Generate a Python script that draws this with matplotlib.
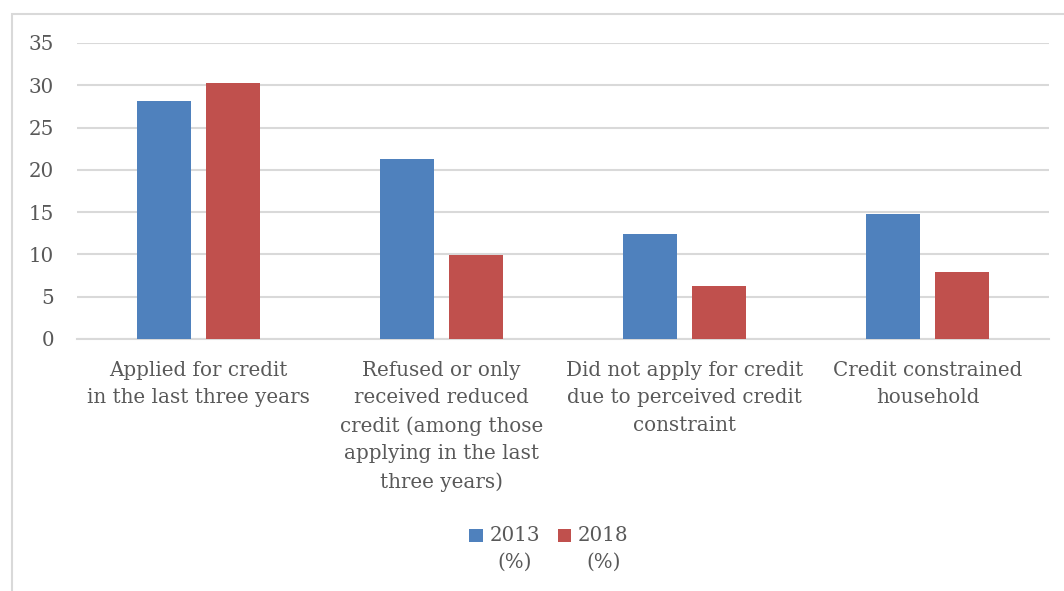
import matplotlib
matplotlib.use("Agg")
import matplotlib.pyplot as plt
import numpy as np
from matplotlib.patches import Rectangle
from matplotlib.legend_handler import HandlerPatch

categories = [
    "Applied for credit\nin the last three years",
    "Refused or only\nreceived reduced\ncredit (among those\napplying in the last\nthree years)",
    "Did not apply for credit\ndue to perceived credit\nconstraint",
    "Credit constrained\nhousehold",
]
series_names = ["2013\n(%)", "2018\n(%)"]
values_2013 = [28.1, 21.3, 12.4, 14.8]
values_2018 = [30.3, 9.9, 6.3, 7.9]
yticks = [0, 5, 10, 15, 20, 25, 30, 35]

W, H = 1064, 591
fig = plt.figure(figsize=(W / 100, H / 100), dpi=100)
plt.rcParams['font.family'] = ['DejaVu Serif']
textcol = "#595959"
gridcol = "#D9D9D9"
FS = 14.3
LS = 1.57

ax = fig.add_axes([77 / W, 1 - 339 / H, (1049 - 77) / W, (339 - 43) / H])
x = np.arange(len(categories))
bw = 0.222
off = 0.142
b1 = ax.bar(x - off, values_2013, bw, color="#4F81BD", label=series_names[0], zorder=3)
b2 = ax.bar(x + off, values_2018, bw, color="#C0504D", label=series_names[1], zorder=3)

ax.set_xlim(-0.5, len(categories) - 0.5)
ax.set_ylim(0, 35)
ax.set_yticks(yticks)
ax.set_yticklabels([str(t) for t in yticks], fontsize=FS, color=textcol)
ax.set_xticks(x)
ax.set_xticklabels(categories, fontsize=FS, color=textcol, linespacing=LS, va="top")
ax.tick_params(axis="both", length=0)
ax.tick_params(axis="x", pad=15.5)
ax.tick_params(axis="y", pad=16.5)
ax.grid(axis="y", color=gridcol, linewidth=1.5, zorder=0)
for s in ["top", "right", "left"]:
    ax.spines[s].set_visible(False)
ax.spines["bottom"].set_color(gridcol)
ax.spines["bottom"].set_linewidth(1.5)


def top_square(legend, orig_handle, xdescent, ydescent, width, height, fontsize):
    sq = width
    return Rectangle((-xdescent, -ydescent + height - sq + 0.1 * fontsize), sq, sq)


h1, h2 = b1.patches[0], b2.patches[0]
leg = fig.legend(handles=[h1, h2], labels=series_names, loc="center",
                 bbox_to_anchor=(549 / W, 1 - 549 / H), ncol=2, frameon=False,
                 fontsize=FS, handlelength=0.66, handleheight=2.6,
                 handletextpad=0.35, columnspacing=0.9, labelcolor=textcol,
                 handler_map={h1: HandlerPatch(patch_func=top_square),
                              h2: HandlerPatch(patch_func=top_square)})
for t in leg.get_texts():
    t.set_multialignment("center")
    t.set_linespacing(LS)

fig.patches.append(Rectangle((11.5 / W, -0.1), 1.2, 1 - 13.5 / H + 0.1,
                             transform=fig.transFigure, fill=False,
                             edgecolor=gridcol, linewidth=1.5))

fig.savefig("out.png", dpi=100)
